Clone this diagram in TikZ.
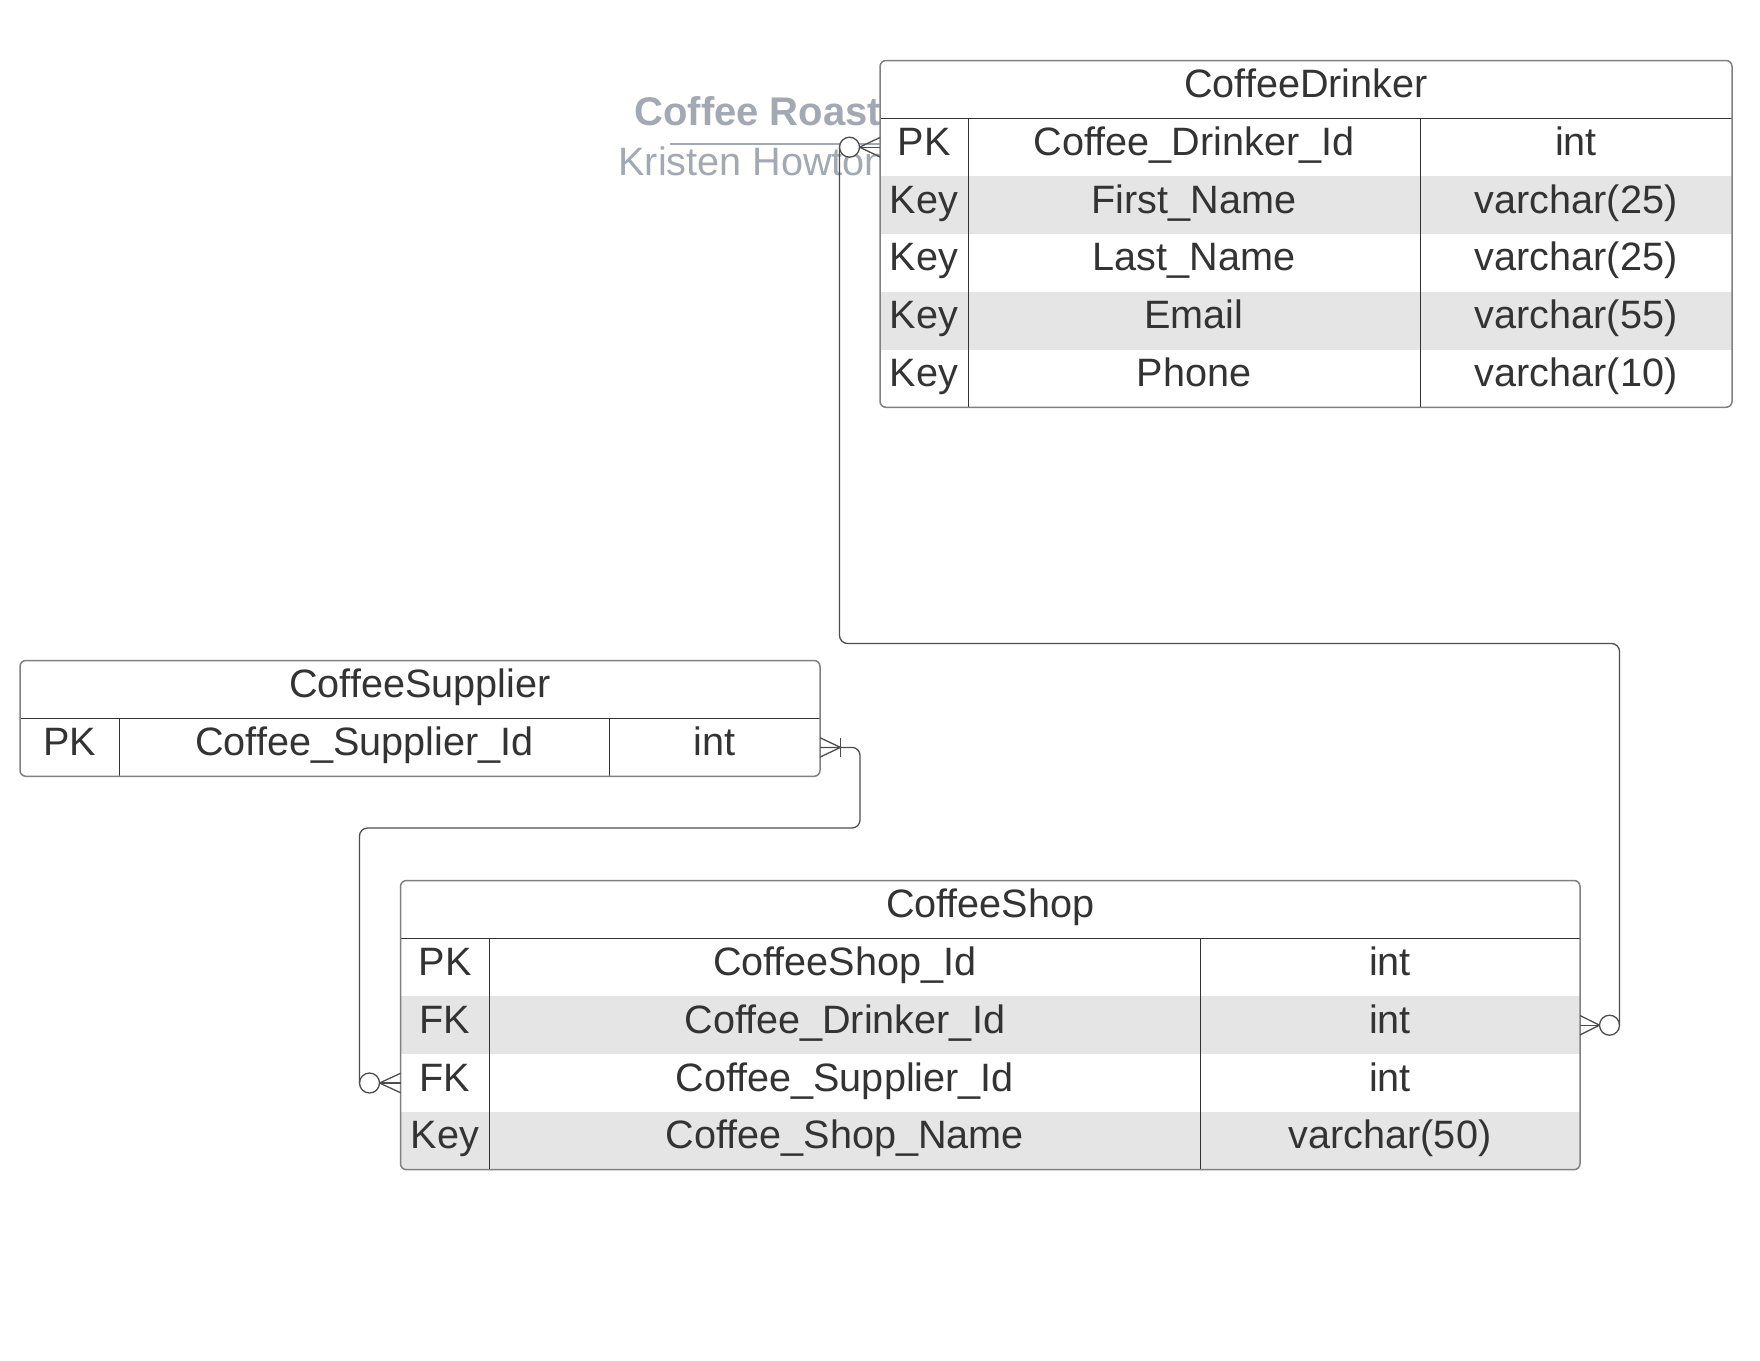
\documentclass[tikz,border=0pt]{standalone}
\usepackage{fontspec}
\setmainfont{Liberation Sans}
\usetikzlibrary{calc}
\definecolor{txt}{HTML}{333333}
\definecolor{rowg}{HTML}{E5E5E5}
\definecolor{outl}{HTML}{808080}
\definecolor{inl}{HTML}{333333}
\definecolor{conn}{HTML}{4D4D4D}
\definecolor{ttl}{HTML}{A3A9B2}
\tikzset{
  cell/.style={anchor=base, inner sep=0pt, text=txt, font=\fontsize{19.8pt}{24pt}\selectfont},
  outerbox/.style={draw=outl, line width=0.75pt, rounded corners=3pt},
  innerline/.style={draw=inl, line width=0.5pt},
  conline/.style={draw=conn, line width=0.65pt},
  ercirc/.style={circle, draw=conn, line width=0.65pt, fill=white, minimum size=10pt, inner sep=0pt, outer sep=0pt},
  ttlbold/.style={anchor=base west, inner sep=0pt, text=ttl, font=\bfseries\fontsize{20pt}{24pt}\selectfont},
  ttlreg/.style={anchor=base west, inner sep=0pt, text=ttl, font=\fontsize{19.8pt}{24pt}\selectfont}
}
\begin{document}
\begin{tikzpicture}[x=0.5pt,y=-0.5pt]
\useasboundingbox[fill=white] (0,0) rectangle (1760,1360);

% ---------- title block ----------
\node[ttlbold] (title) at (634,125) {Coffee Roast};
\node[ttlreg] (author) at (618,175) {Kristen Howton};
\draw[ttl, line width=1pt] (670,144) -- (880,144);

% ---------- CoffeeDrinker ----------
\begin{scope}
\clip[rounded corners=3pt] (880,60.5) rectangle (1732,407.3);
\fill[white] (880,60.5) rectangle (1732,407.3);
\fill[rowg] (880,176.1) rectangle (1732,233.9);
\fill[rowg] (880,291.7) rectangle (1732,349.5);
\end{scope}
\draw[innerline] (880,118.3) -- (1732,118.3);
\draw[innerline] (968,118.3) -- (968,407.3);
\draw[innerline] (1420,118.3) -- (1420,407.3);
\draw[outerbox] (880,60.5) rectangle (1732,407.3);
\node[cell] (cd-title) at (1306,97.5) {CoffeeDrinker};
\node[cell] (cd-k1) at (924,155.3) {PK};
\node[cell] (cd-n1) at (1194,155.3) {Coffee\_Drinker\_Id};
\node[cell] (cd-t1) at (1576,155.3) {int};
\node[cell] (cd-k2) at (924,213.1) {Key};
\node[cell] (cd-n2) at (1194,213.1) {First\_Name};
\node[cell] (cd-t2) at (1576,213.1) {varchar(25)};
\node[cell] (cd-k3) at (924,270.9) {Key};
\node[cell] (cd-n3) at (1194,270.9) {Last\_Name};
\node[cell] (cd-t3) at (1576,270.9) {varchar(25)};
\node[cell] (cd-k4) at (924,328.7) {Key};
\node[cell] (cd-n4) at (1194,328.7) {Email};
\node[cell] (cd-t4) at (1576,328.7) {varchar(55)};
\node[cell] (cd-k5) at (924,386.5) {Key};
\node[cell] (cd-n5) at (1194,386.5) {Phone};
\node[cell] (cd-t5) at (1576,386.5) {varchar(10)};
\coordinate (cd-pk-w) at (880,147.2);

% ---------- CoffeeSupplier ----------
\begin{scope}
\clip[rounded corners=3pt] (20,660.5) rectangle (820,776.3);
\fill[white] (20,660.5) rectangle (820,776.3);
\end{scope}
\draw[innerline] (20,718.5) -- (820,718.5);
\draw[innerline] (119.5,718.5) -- (119.5,776.3);
\draw[innerline] (609.5,718.5) -- (609.5,776.3);
\draw[outerbox] (20,660.5) rectangle (820,776.3);
\node[cell] (su-title) at (420,697.5) {CoffeeSupplier};
\node[cell] (su-k1) at (69.75,755.5) {PK};
\node[cell] (su-n1) at (364.5,755.5) {Coffee\_Supplier\_Id};
\node[cell] (su-t1) at (714.75,755.5) {int};
\coordinate (su-pk-e) at (820,747.4);

% ---------- CoffeeShop ----------
\begin{scope}
\clip[rounded corners=3pt] (400.5,880.5) rectangle (1580,1169.7);
\fill[white] (400.5,880.5) rectangle (1580,1169.7);
\fill[rowg] (400.5,996.3) rectangle (1580,1054.1);
\fill[rowg] (400.5,1111.9) rectangle (1580,1169.7);
\end{scope}
\draw[innerline] (400.5,938.5) -- (1580,938.5);
\draw[innerline] (489.5,938.5) -- (489.5,1169.7);
\draw[innerline] (1200,938.5) -- (1200,1169.7);
\draw[outerbox] (400.5,880.5) rectangle (1580,1169.7);
\node[cell] (sh-title) at (990.25,917.5) {CoffeeShop};
\node[cell] (sh-k1) at (445,975.5) {PK};
\node[cell] (sh-n1) at (844.75,975.5) {CoffeeShop\_Id};
\node[cell] (sh-t1) at (1390,975.5) {int};
\node[cell] (sh-k2) at (445,1033.3) {FK};
\node[cell] (sh-n2) at (844.75,1033.3) {Coffee\_Drinker\_Id};
\node[cell] (sh-t2) at (1390,1033.3) {int};
\node[cell] (sh-k3) at (445,1091.1) {FK};
\node[cell] (sh-n3) at (844.75,1091.1) {Coffee\_Supplier\_Id};
\node[cell] (sh-t3) at (1390,1091.1) {int};
\node[cell] (sh-k4) at (445,1148.9) {Key};
\node[cell] (sh-n4) at (844.75,1148.9) {Coffee\_Shop\_Name};
\node[cell] (sh-t4) at (1390,1148.9) {varchar(50)};
\coordinate (sh-fk1-e) at (1580,1025.2);
\coordinate (sh-fk2-w) at (400.5,1083);

% ---------- connector: CoffeeDrinker -- CoffeeShop ----------
\coordinate (j1y) at (0,643.5);
\node[ercirc] (c1a) at (849.5,147.2) {};
\node[ercirc] (c1b) at (1609.5,1025.2) {};
\draw[conline, rounded corners=4pt] (c1a.west) |- (c1b.east |- j1y) -- (c1b.east);
\draw[conline] (c1a.east) -- (cd-pk-w);
\draw[conline] (c1a.east) -- ([yshift=4.85pt]cd-pk-w);
\draw[conline] (c1a.east) -- ([yshift=-4.85pt]cd-pk-w);
\draw[conline] (c1b.west) -- (sh-fk1-e);
\draw[conline] (c1b.west) -- ([yshift=4.85pt]sh-fk1-e);
\draw[conline] (c1b.west) -- ([yshift=-4.85pt]sh-fk1-e);

% ---------- connector: CoffeeSupplier -- CoffeeShop ----------
\coordinate (j2) at (860,828);
\coordinate (su-bar) at (840.5,747.4);
\node[ercirc] (c2b) at (369.5,1083) {};
\draw[conline, rounded corners=4pt] (su-pk-e) -| (j2) -| (c2b.west);
\draw[conline] ([yshift=4.85pt]su-pk-e) -- (su-bar);
\draw[conline] ([yshift=-4.85pt]su-pk-e) -- (su-bar);
\draw[conline] ([yshift=4.85pt]su-bar) -- ([yshift=-4.85pt]su-bar);
\draw[conline] (c2b.east) -- (sh-fk2-w);
\draw[conline] (c2b.east) -- ([yshift=4.85pt]sh-fk2-w);
\draw[conline] (c2b.east) -- ([yshift=-4.85pt]sh-fk2-w);
\end{tikzpicture}
\end{document}
